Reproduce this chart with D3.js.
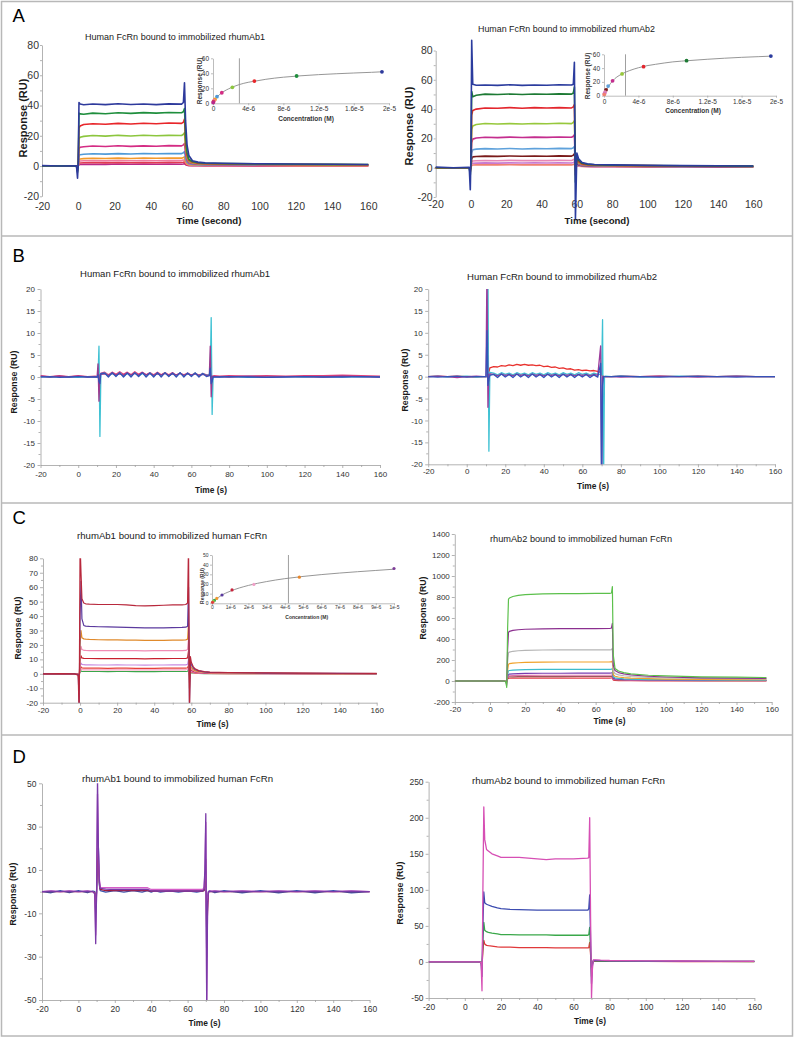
<!DOCTYPE html>
<html><head><meta charset="utf-8">
<script src="https://cdn.jsdelivr.net/npm/d3@7"></script>
<style>
body{margin:0;background:#fff}
svg{display:block}
text{font-family:"Liberation Sans",Arial,Helvetica,sans-serif}
</style>
</head><body>
<svg id="c" width="794" height="1038"></svg>
<script>
// ================= DATA =================
// ---- Panel A (time in s, response in RU) ----
const aTimes = [-20,-10,-1,-0.4,0,0.4,1,3,8,15,22,29,36,43,50,57,58,58.6,59.2,60,61,63,66,70,80,100,120,140,160];
const aLeftSeries = [
 [0,0,0,-0.4,0.1,0.9,1,1.1,1.2,1.1,1.3,1.2,1.3,1.2,1.3,1.2,1.4,1.6,0.9,0.5,0.3,0.2,0.2,0.2,0.2,0.1,0.1,0.1,0.1],
 [0,0,0,-0.5,0.1,1.8,2,2.2,2.3,2.1,2.3,2.2,2.3,2.2,2.4,2.3,2.5,2.8,1.5,0.8,0.5,0.4,0.4,0.3,0.3,0.3,0.2,0.2,0.2],
 [0,0,0,-0.6,0.2,3,3.3,3.5,3.6,3.4,3.7,3.5,3.6,3.5,3.7,3.6,3.9,4.2,2.3,1.2,0.8,0.6,0.5,0.5,0.4,0.4,0.3,0.3,0.3],
 [0,0,0,-0.8,0.2,4.3,4.7,4.9,5.1,5,5.2,5,5.3,5.1,5.3,5.2,5.6,6,3.2,1.6,1,0.8,0.7,0.6,0.5,0.5,0.4,0.4,0.4],
 [0,0,0,-1,0.3,7,7.5,7.8,8.1,7.9,8.2,8,8.3,8.1,8.3,8.2,8.8,9.5,5,2.5,1.5,1.1,0.9,0.8,0.7,0.6,0.6,0.5,0.5],
 [0,0,0,-1.5,0.5,11.5,12.4,12.8,13.2,12.9,13.4,13,13.3,13.1,13.5,13.3,14,15,8,3.8,2.2,1.5,1.2,1,0.9,0.8,0.7,0.7,0.6],
 [0,0,0,-2,0.5,18,19,19.6,20.2,19.8,20.3,19.9,20.4,20,20.3,20.2,21,22,12,5.5,3,2,1.6,1.4,1.2,1,0.9,0.8,0.8],
 [0,0,0,-3,1,25,26.5,27.5,28,27.6,28.2,27.8,28.3,28,28.4,28.2,29,31,16,7,3.8,2.5,1.9,1.6,1.4,1.2,1.1,1,0.9],
 [0,0.1,0,-4,1,35,34.5,34.2,35,34.6,35.2,34.8,35.3,35,35.4,35.2,36,38,20,9,4.5,3,2.2,1.8,1.6,1.4,1.2,1.1,1],
 [0.3,0,0.2,-8,2,42,41,40.5,41,40.6,41.2,40.7,41,40.6,41.1,40.9,42,55,30,14,7,3.5,2.6,2.1,1.8,1.5,1.3,1.2,1]
];
const aRightSeries = [
 [0,0,0,-0.4,0.1,1.5,1.8,1.9,2,1.9,2,1.9,2,1.9,2,1.9,2.2,2.5,1.2,1.3,1,0.8,0.6,0.5,0.5,0.4,0.4,0.4,0.4],
 [0,0,0,-0.5,0.1,2.6,3,3.1,3.3,3.1,3.3,3.2,3.3,3.2,3.3,3.2,3.6,4,1.8,1.8,1.3,1,0.8,0.7,0.7,0.6,0.5,0.5,0.5],
 [0,0,0,-0.6,0.2,4,4.6,4.7,4.9,4.7,5,4.8,4.9,4.8,5,4.9,5.4,6,2.5,2.4,1.6,1.2,1,0.9,0.8,0.7,0.7,0.6,0.6],
 [0,0,0,-0.8,0.3,6,7.4,7.6,7.9,7.7,8,7.8,8,7.8,8.1,7.9,8.6,9.5,3,3,1.9,1.4,1.2,1.1,1,0.9,0.8,0.7,0.7],
 [0,0,0,-1,0.5,10,12.3,12.7,13,12.8,13.1,12.8,13,12.9,13.2,13,13.6,14.5,2,3.5,2.2,1.6,1.4,1.2,1.1,1,0.9,0.8,0.8],
 [0,0,0,-1.5,0.5,17,19.5,20.3,20.8,20.5,20.9,20.6,20.9,20.7,21,20.8,21.5,22.5,0,4,2.6,1.9,1.6,1.4,1.2,1.1,1,0.9,0.8],
 [0,0,0,-2,1,26,28.5,29.5,30.2,29.8,30.1,29.8,30.2,30,30.3,30.1,31,32,-2,5,3.2,2.2,1.8,1.6,1.4,1.2,1.1,1,0.9],
 [0,0,0,-3,1,36,39,40,40.8,40.6,41,40.6,41,40.7,41,40.8,41.5,43,-5,6,4,2.5,2,1.8,1.6,1.4,1.2,1.1,1],
 [0,0,0,-5,3,52,48.5,49.5,50.2,50,50.3,50,50.3,50.1,50.4,50.2,51,55,-10,8,5,3,2.3,2,1.7,1.5,1.3,1.2,1.1],
 [0.5,0,0.3,-15,10,87,57,56.3,56.5,56.2,56.6,56.2,56.5,56.3,56.6,56.4,57,72,-35,10,6,3.5,2.6,2.2,1.9,1.6,1.4,1.3,1.2]
];
// Panel A insets (steady-state: concentration M vs response RU)
const aLeftFitConc = [0,2e-7,5e-7,1e-6,2e-6,3e-6,4e-6,5e-6,6e-6,8e-6,1e-5,1.2e-5,1.4e-5,1.6e-5,1.8e-5,1.92e-5];
const aLeftFitResp = [0,4.5,9,14,20.5,25,28,30,32,34.8,36.7,38.2,39.4,40.4,41.3,42];
const aLeftPtConc = [1.92e-5,9.5e-6,4.7e-6,2.2e-6,1.0e-6,4.5e-7,2.2e-7,1.1e-7,5e-8,2.5e-8];
const aLeftPtResp = [42,36.4,29.7,21.3,14.1,8.8,5.2,3.5,2.2,1.1];
const aLeftKd = 3.0e-6;
const aRightFitConc = [0,2e-7,5e-7,1e-6,2e-6,3e-6,4e-6,5e-6,6e-6,8e-6,1e-5,1.2e-5,1.4e-5,1.6e-5,1.8e-5,1.94e-5];
const aRightFitResp = [0,6.5,13,21.5,31,36.5,40.5,43.5,45.5,49,51,52.8,54.3,55.6,56.6,57.3];
const aRightPtConc = [1.94e-5,9.6e-6,4.6e-6,2.1e-6,1.0e-6,4.8e-7,2.4e-7,1.2e-7,6e-8,3e-8];
const aRightPtResp = [57.5,50.7,42,31.5,21.5,14,8.5,5,3.2,1.9];
const aRightKd = 2.5e-6;
const aInsetXTicks = [0,4e-6,8e-6,1.2e-5,1.6e-5,2e-5];
const aInsetXLabels = ["0","4e-6","8e-6","1.2e-5","1.6e-5","2e-5"];
const aInsetYTicks = [0,20,40,60];

// ---- Panel B ----
const bTimes = [-20,-15,-10,-5,0,5,9,10,10.5,11,11.5,12,14,16,18,20,22,24,26,28,30,32,34,36,38,40,42,44,46,48,50,52,54,56,58,60,62,64,66,68,69.5,70,70.5,71,71.5,72,75,80,90,100,110,120,130,140,150,160];
const bLeftSeries = [
 [0.3,0.1,0.3,0.1,0.3,0.1,0.2,0.1,0.2,0, 0.3,0.8, 1.1,0.5,1.1,0.6,1.2,0.6,1.1,0.5,1.2,0.6,1.1,0.5,1.0,0.5,1.1,0.5,1.0,0.5,1.0,0.4,0.9,0.5,0.9,0.4,0.9,0.4,0.8,0.5, 0.5,0.5,0.3,0.2,0.2,0.3, 0.2,0.3,0.2,0.3,0.2,0.3,0.3,0.4,0.3,0.2],
 [0.1,-0.1,0.1,0,-0.1,0.1,0,0,0, 7,-13.5,0.6, 0.9,0.2,0.8,0.3,0.9,0.2,0.8,0.3,0.9,0.2,0.8,0.3,0.9,0.2,0.8,0.3,0.9,0.2,0.8,0.3,0.9,0.2,0.8,0.3,0.9,0.2,0.8,0.4, 0.5,0.5,13.5,-8.5,0,0.1, 0,0.1,-0.1,0,0.1,0,0.1,0,0.1,0],
 [0.2,0,0.2,0,0.2,0,0.1,0, 3,-5.5,0.5,0.6, 0.7,0.4,0.8,0.5,0.7,0.4,0.9,0.5,0.8,0.4,1.0,0.5,0.8,0.4,0.7,0.5,0.8,0.4,0.7,0.5,0.8,0.4,0.7,0.5,0.7,0.4,0.6,0.4, 0.3,7,-4.5,0.2,0,0.1, 0.1,0,0.2,0,0.1,0.1,0,0.2,0.1,0],
 [0,0.1,-0.1,0,0.1,0,0,0,0.5,-1, -1.5,0.8, 0.9,0,1,0.1,1,0,0.9,0,1,0.1,1,0,0.9,0,1,0,1,0.1,0.9,0,1,0,0.9,0.1,0.9,0,0.8,0.1, 0.3,2,-1.5,-1,0,0, 0,0.1,0,-0.1,0,0.1,0,0,0.1,0]
];
const bRightSeries = [
 [0,0.1,0,0.1,0,-0.1,0,0,0,0.5, 1,2, 2.3,2.2,2.5,2.4,2.7,2.5,2.8,2.6,2.8,2.6,2.7,2.5,2.6,2.3,2.4,2.1,2.2,1.9,2.0,1.7,1.8,1.5,1.6,1.4,1.5,1.3,1.4,1.2, 1.0,0.5,0.2,0.1,0,0, 0,0.1,0,0.1,0,0.1,0,0.1,0,0],
 [0,0.1,-0.1,0,0.1,-0.1,0,0,0, 25,-17,1, 0.8,0.4,0.9,0.5,0.8,0.4,0.9,0.5,0.8,0.4,0.9,0.5,0.8,0.4,0.9,0.5,0.8,0.4,0.9,0.5,0.8,0.4,0.9,0.5,0.8,0.4,0.8,0.5, 0.5,0.5,13,-25,0,0.1, 0,0.1,-0.1,0,0.1,0,0,0.1,0,0],
 [0,0.1,0,-0.2,0,0.1,0,0, 25,-7,0.5,0.6, 0.5,0.2,0.6,0.3,0.5,0.2,0.6,0.3,0.5,0.2,0.6,0.3,0.5,0.2,0.5,0.3,0.5,0.2,0.5,0.3,0.5,0.2,0.5,0.3,0.5,0.2,0.5,0.3, 7,-25,0,0,0,0, 0,-0.1,0,0.1,0,-0.1,0,0.1,0,0],
 [0,-0.1,0,0.1,-0.1,0,0,0, 10.5,-2,-0.5,0.3, 0.5,-0.2,0.6,-0.1,0.5,-0.2,0.6,-0.1,0.5,-0.2,0.6,-0.1,0.5,-0.2,0.6,-0.1,0.5,-0.2,0.6,-0.1,0.5,-0.2,0.5,-0.1,0.5,-0.2,0.4,-0.1, 3,-25,-2,0,0,0, 0,0.1,0,-0.1,0,0.1,0,-0.1,0,0]
];

// ---- Panel C ----
const cLeftTimes = [-20,-10,-3,-1,-0.5,0,0.5,1,2,3,5,10,15,20,25,30,35,40,45,50,55,57,58,58.5,59,59.5,60,61,62,64,67,70,80,100,120,140,160];
const cLeftSeries = [
 [0,0,0,0,-0.3,1.2,2,1.7,1.6,1.6,1.6,1.6,1.5,1.6,1.6,1.5,1.5,1.5,1.6,1.6,1.6,1.6,1.8,2.5,-0.3,0.9,0.7,0.5,0.4,0.3,0.2,0.1,0.1,0.1,0.1,0,0],
 [0,0,0,0,-0.5,2,3.4,2.9,2.8,2.8,2.8,2.8,2.7,2.8,2.8,2.7,2.7,2.7,2.8,2.8,2.8,2.8,3,4.5,-0.5,1.4,1,0.7,0.5,0.4,0.3,0.2,0.2,0.1,0.1,0.1,0.1],
 [0,0,0,0,-1,3,4.8,4.1,4,3.9,3.9,3.9,3.8,3.9,3.9,3.8,3.8,3.8,3.9,3.9,3.9,3.9,4.2,6,-1,1.8,1.3,1,0.7,0.5,0.4,0.3,0.2,0.2,0.1,0.1,0.1],
 [0,0,0,-0.1,-2,5,7.5,6.5,6.3,6.2,6.2,6.1,6.1,6.2,6.1,6.1,6,6.1,6.1,6.2,6.2,6.2,6.6,10,-2,2.5,1.8,1.3,1,0.7,0.5,0.4,0.3,0.2,0.2,0.1,0.1],
 [0,0,0,-0.2,-4,9,12.5,11,10.7,10.6,10.6,10.5,10.5,10.6,10.5,10.5,10.4,10.5,10.5,10.6,10.6,10.6,11,16,-4,3.5,2.6,1.8,1.3,0.9,0.7,0.5,0.4,0.3,0.2,0.2,0.1],
 [0,0,0,-0.3,-6,14,19,16.8,16.3,16.2,16.1,16,16,16.1,16,16,15.9,16,16,16.1,16.1,16.2,16.8,24,-6,4.5,3.3,2.3,1.7,1.2,0.9,0.7,0.5,0.3,0.3,0.2,0.2],
 [0,0,0,-0.4,-10,20,30,25,24.2,24,23.8,23.6,23.5,23.5,23.4,23.3,23.2,23.2,23.2,23.3,23.4,23.5,24,35,-10,6,4.5,3,2.2,1.5,1.1,0.8,0.6,0.4,0.3,0.2,0.2],
 [0,0,0,-0.5,-20,40,64,38,33.5,33,32.8,32.6,32.5,32.4,32.2,32,31.8,31.8,31.8,32,32.1,32.3,33,60,-20,9,6.5,4.2,3,2,1.4,1,0.8,0.5,0.4,0.3,0.2],
 [0,0.2,0,-1,-30,90,70,52,49,48.5,48.3,48,48,48,47.8,47.2,47,47.2,47.5,47.8,47.8,48,49,90,-30,12,8,5,3.5,2.2,1.6,1.2,0.9,0.6,0.5,0.4,0.3]
];
const cLeftFitConc = [0,2.5e-7,5e-7,1e-6,2e-6,3e-6,4e-6,5e-6,6e-6,7e-6,8e-6,9e-6,1e-5];
const cLeftFitResp = [0,4.5,8,12.5,18.5,22.5,25.5,27.8,29.7,31.3,32.7,34,35.3];
const cLeftPtConc = [1e-5,4.8e-6,2.3e-6,1.1e-6,5.5e-7,2.6e-7,1.3e-7,6.5e-8,3e-8];
const cLeftPtResp = [36,27,19.5,13.8,8.6,5,3,2,1];
const cLeftKd = 4.2e-6;
const cInsetXTicks = [0,1e-6,2e-6,3e-6,4e-6,5e-6,6e-6,7e-6,8e-6,9e-6,1e-5];
const cInsetXLabels = ["0","1e-6","2e-6","3e-6","4e-6","5e-6","6e-6","7e-6","8e-6","9e-6","1e-5"];
const cInsetYTicks = [0,10,20,30,40,50];

const cRightTimes = [-20,0,8,9,9.5,10,10.5,11,13,16,20,30,40,50,60,68,69,69.5,70,71,73,76,80,90,100,120,140,157];
const cRightSeries = [
 [0,0,0,-1,-4,18,25,26,27,27,28,28,28,28,28,28,29,31,8,5,4,3,3,2,2,2,2,2],
 [0,0,0,-1,-5,25,38,39,40,41,42,42,42,43,43,43,44,47,15,12,10,8,7,6,5,4,4,4],
 [0,0,0,-1,-6,30,48,50,52,53,54,55,55,55,55,55,56,60,20,15,12,10,9,7,6,5,5,4],
 [0,0,0,-1,-8,40,62,65,68,70,72,74,74,75,75,75,76,80,25,20,17,14,12,10,8,7,6,6],
 [0,0,0,-2,-10,60,98,100,104,106,108,110,110,111,111,111,112,118,40,30,25,21,18,14,12,10,9,8],
 [0,0,0,-2,-15,100,160,165,170,174,177,180,181,181,181,182,183,190,60,45,38,32,28,22,18,15,13,12],
 [0,0,0,-3,-25,180,270,275,283,288,292,295,296,296,296,297,298,310,100,70,58,50,43,35,30,25,22,20],
 [0,0,0,-5,-40,300,465,472,482,488,493,497,498,498,499,500,505,550,150,100,80,68,58,45,38,30,27,25],
 [0,0,0,-10,-60,500,780,790,805,815,822,830,832,833,834,835,838,900,250,120,95,80,68,55,48,40,36,33]
];

// ---- Panel D ----
const dLeftTimes = [-20,-15,-10,-5,0,5,8,9,9.5,10,10.5,11,11.5,12,15,20,25,30,35,38,40,42,45,50,55,60,65,68,69,69.5,70,70.5,71,71.5,72,75,80,90,100,110,120,130,140,150,160];
const dLeftSeries = [
 [0,-0.5,0.5,-0.5,0.5, -0.5,0.3,0,-5,0, 10,20,3,0.5,-0.2, 0.5,-0.2,0.5,-0.2,0.5, -0.2,0.5,-0.2,0.4,-0.2, 0.4,-0.2,0.3,0.5,3, 10,-30,-2,0,0.5, -0.5,0.5,-0.5,0.5,-0.5, 0.5,-0.5,0.5,-0.5,0],
 [0,0,0,0,0, 0,0,-0.5,-10,0, 20,13,4,1,0.5, 0.5,0.5,0.5,0.5,0.5, 0.3,0.3,0.3,0.3,0.3, 0.3,0.3,0.3,0.5,3, 15,-20,-8,0,0, 0,0,0,0,0, 0,0,0,0,0],
 [0,0.3,0,0.3,0, 0.3,0,-1,-20,0, 45,18,6,2,1.8, 1.8,1.8,1.8,1.8,1.8, 1,1,1,1,1, 1,1,1,1.5,8, 32,-50,-3,0,0.2, 0.3,0,0.3,0,0.3, 0,0.3,0,0.3,0],
 [0,0.2,0,0.2,0, 0.2,0,-1,-24,0, 52,20,5,1.5,1.2, 1,1,1,1,1, 0.4,0.3,0.3,0.3,0.3, 0.3,0.3,0.3,1,10, 36,-55,-5,0,0, 0.2,0,0.2,0,0.2, 0,0.2,0,0.2,0]
];
const dRightTimes = [-20,0,8,9,9.5,10,10.5,11,12,13,15,18,20,25,30,40,45,50,60,68,68.5,69,69.5,70,70.5,71,72,75,80,100,120,140,160];
const dRightSeries = [
 [0,0,0,-0.5,-5,15,30,25,23,22.5,22,21,20.5,20.5,20,20,20,19.5,19.5,19.5,20,27,10,-10,-2,1,1,0.9,0.8,0.7,0.6,0.5,0.5],
 [0,0,0,-0.5,-10,30,55,44,42,41,40,39,38,38,37.5,37.5,37.5,37,37,37,38,48,15,-20,-3,1.5,1.5,1.3,1.1,0.9,0.8,0.7,0.6],
 [0,0,0,-1,-20,50,97,82,80,79,77,75,74,73,72.5,72,72,72,72,72,74,93,30,-30,-5,2,2,1.8,1.5,1.2,1,0.9,0.8],
 [0,0,0,-1,-40,100,215,170,156,154,150,147,145,145,145,143,142,143,143,144,145,200,60,-50,-10,3,3,2.5,2,1.6,1.3,1.1,1]
];
const timeTicks = [-20,0,20,40,60,80,100,120,140,160];

// ================= STYLES =================
const aLeftColors = ["#b8288a","#e03c50","#f07aa0","#f39a2b","#4f9ad8","#d42c84","#8cc63e","#e8262a","#1f8e3d","#2e3a9c"];
const aRightColors = ["#f08070","#c87ad0","#e887b5","#7a1a1a","#5ea1db","#c42d8e","#97c83c","#e3262d","#1d7a34","#2b3c9e"];
const aLeftPtColors = ["#2e3a9c","#1f8e3d","#e8262a","#8cc63e","#d42c84","#4f9ad8","#f39a2b","#f07aa0","#e03c50","#b8288a"];
const aRightPtColors = ["#2b3c9e","#1d7a34","#e3262d","#97c83c","#c42d8e","#5ea1db","#7a1a1a","#e887b5","#c87ad0","#f08070"];
const bLeftColors = ["#e0407a","#3ec1d3","#9b3a8e","#3652b8"];
const bRightColors = ["#e8322e","#3ec1d3","#9b3a9b","#3652b8"];
const cLeftColors = ["#3aa64a","#f5a0c0","#e8403a","#c78ae0","#c8202f","#f08cb4","#e08a2c","#5b3a9e","#b8283c"];
const cLeftPtColors = ["#7d3c98","#e8862a","#f0a0c8","#c8243c","#5a3a9e","#f09a30","#3aa64a","#8cc84a","#e04040"];
const cRightColors = ["#e63a48","#9a5a5a","#e070a8","#7a3cb0","#3cbccc","#f0a22a","#b5b5b5","#8b2f8f","#5cc04c"];
const dLeftColors = ["#3a56b0","#a01c3c","#d55ec8","#7a3aa8"];
const dRightColors = ["#e0383a","#3aa84a","#3b4bb0","#d64fb4"];

const FONT = '"Liberation Sans", Arial, Helvetica, sans-serif';
const svg = d3.select("#c");
const AX = "#a0a0a0";

function txt(g, s, x, y, size, o = {}) {
  const t = g.append("text").attr("x", x).attr("y", y).attr("font-size", size)
    .attr("fill", o.fill || "#1a1a1a").attr("text-anchor", o.anchor || "middle")
    .attr("font-weight", o.bold ? "bold" : "normal").attr("font-family", FONT).text(s);
  if (o.rotate) t.attr("transform", `rotate(-90,${x},${y})`).attr("dominant-baseline", "central");
  if (o.len) t.attr("textLength", o.len).attr("lengthAdjust", "spacingAndGlyphs");
  return t;
}

let clipN = 0;
function drawPanel(p) {
  const g = svg.append("g");
  const x = d3.scaleLinear().domain(p.xDomain).range(p.xRange);
  const y = d3.scaleLinear().domain(p.yDomain).range(p.yRange);

  const ya = g.append("g").attr("transform", `translate(${p.xRange[0]},0)`)
    .call(d3.axisLeft(y).tickValues(p.yTicks).tickSize(p.tickLen).tickSizeOuter(0).tickPadding(p.yPad).tickFormat(d => String(d)));
  if (p.yMinor) g.append("g").attr("transform", `translate(${p.xRange[0]},0)`)
    .call(d3.axisLeft(y).tickValues(p.yMinor).tickSize(2).tickFormat("")).select(".domain").remove();
  const xa = g.append("g").attr("transform", `translate(0,${p.yRange[0]})`)
    .call(d3.axisBottom(x).tickValues(timeTicks).tickSize(p.xLine ? p.tickLen : 0).tickSizeOuter(0).tickPadding(p.xPad).tickFormat(d => String(d)));
  if (!p.xLine) xa.select(".domain").remove();
  else g.append("g").attr("transform", `translate(0,${p.yRange[0]})`)
    .call(d3.axisBottom(x).tickValues(d3.range(-10, 160, 20)).tickSize(2).tickFormat("")).select(".domain").remove();
  [ya, xa].forEach(a => a.attr("font-family", FONT).attr("font-size", p.tickFont));
  g.selectAll(".domain, .tick line").attr("stroke", AX).attr("stroke-width", 0.8);
  g.selectAll(".tick text").attr("fill", "#333");

  const lg = g.append("g");
  if (p.clip) {
    const id = "clip" + (clipN++);
    svg.append("clipPath").attr("id", id).append("rect")
      .attr("x", p.xRange[0]).attr("y", p.yRange[1]).attr("width", p.xRange[1] - p.xRange[0] + 2).attr("height", p.yRange[0] - p.yRange[1]);
    lg.attr("clip-path", `url(#${id})`);
  }
  const line = d3.line().x(d => x(d[0])).y(d => y(d[1]));
  p.series.forEach((vals, i) => {
    lg.append("path").datum(p.times.map((t, j) => [t, vals[j]]))
      .attr("fill", "none").attr("stroke", p.colors[i]).attr("stroke-width", p.lineW)
      .attr("stroke-linejoin", "round").attr("d", line);
  });

  txt(g, p.title, p.titlePos[0], p.titlePos[1], p.titleFont, { len: p.titleLen });
  txt(g, "Response (RU)", p.yLabPos[0], p.yLabPos[1], p.labFont, { bold: true, rotate: true });
  txt(g, p.xLab, p.xLabPos[0], p.xLabPos[1], p.xLabFont, { bold: true });
}

function drawInset(q) {
  const g = svg.append("g");
  const x = d3.scaleLinear().domain(q.xDomain).range(q.xRange);
  const y = d3.scaleLinear().domain(q.yDomain).range(q.yRange);
  const ya = g.append("g").attr("transform", `translate(${q.xRange[0]},0)`)
    .call(d3.axisLeft(y).tickValues(q.yTicks).tickSize(2).tickSizeOuter(0).tickPadding(q.yPad).tickFormat(d => String(d)));
  const xa = g.append("g").attr("transform", `translate(0,${q.yRange[0]})`)
    .call(d3.axisBottom(x).tickValues(q.xTicks).tickSize(2).tickSizeOuter(0).tickPadding(q.xPad).tickFormat((d, i) => q.xLabels[i]));
  [ya, xa].forEach(a => a.attr("font-family", FONT).attr("font-size", q.font));
  g.selectAll(".domain, .tick line").attr("stroke", AX).attr("stroke-width", 0.7);
  g.selectAll(".tick text").attr("fill", "#333");
  g.append("line").attr("x1", x(q.kd)).attr("x2", x(q.kd)).attr("y1", q.yRange[1]).attr("y2", q.yRange[0])
    .attr("stroke", "#888").attr("stroke-width", 0.8);
  const line = d3.line().x(d => x(d[0])).y(d => y(d[1])).curve(d3.curveMonotoneX);
  g.append("path").datum(q.fitC.map((c, i) => [c, q.fitR[i]])).attr("fill", "none")
    .attr("stroke", "#8a8a8a").attr("stroke-width", 0.9).attr("d", line);
  q.ptC.forEach((c, i) => {
    g.append("circle").attr("cx", x(c)).attr("cy", y(q.ptR[i])).attr("r", q.r).attr("fill", q.ptColors[i]);
  });
  txt(g, "Concentration (M)", q.xLabPos[0], q.xLabPos[1], q.labFont, { bold: true, fill: "#333" });
  txt(g, "Response (RU)", q.yLabPos[0], q.yLabPos[1], q.labFont, { bold: true, rotate: true, fill: "#333" });
}

// ================= FRAME =================
svg.append("rect").attr("x", 1.5).attr("y", 1.5).attr("width", 791).attr("height", 1034.5)
  .attr("fill", "none").attr("stroke", "#b8b8b8").attr("stroke-width", 1.5);
[236, 503, 735].forEach(yy => svg.append("line").attr("x1", 1.5).attr("x2", 792.5).attr("y1", yy).attr("y2", yy)
  .attr("stroke", "#b8b8b8").attr("stroke-width", 1.5));
[["A", 21.7], ["B", 261.7], ["C", 523.5], ["D", 762.5]].forEach(([s, yy]) =>
  txt(svg, s, 12.5, yy, 18.5, { anchor: "start", fill: "#000" }));

// ================= PANELS =================
const common = { xDomain: [-20, 160] };
drawPanel({ ...common, xRange: [42, 368.3], yDomain: [-20, 80], yRange: [196.3, 45],
  yTicks: d3.range(-20, 81, 20), yMinor: d3.range(-10, 80, 20), tickLen: 2, yPad: 1, xPad: 6.5, xLine: false,
  tickFont: 10.5, lineW: 1.6, clip: false, times: aTimes, series: aLeftSeries, colors: aLeftColors,
  title: "Human FcRn bound to immobilized rhumAb1", titlePos: [175, 40], titleFont: 9, titleLen: 180,
  yLabPos: [23, 118], labFont: 11, xLab: "Time (second)", xLabPos: [209, 223.5], xLabFont: 9.6 });
drawPanel({ ...common, xRange: [435.7, 753.3], yDomain: [-20, 80], yRange: [197, 50.5],
  yTicks: d3.range(-20, 81, 20), yMinor: d3.range(-10, 80, 20), tickLen: 2, yPad: 1, xPad: 4, xLine: false,
  tickFont: 10.5, lineW: 1.6, clip: false, times: aTimes, series: aRightSeries, colors: aRightColors,
  title: "Human FcRn bound to immobilized rhumAb2", titlePos: [566.5, 31.5], titleFont: 9, titleLen: 177,
  yLabPos: [409, 126], labFont: 11, xLab: "Time (second)", xLabPos: [597, 223.5], xLabFont: 9.6 });

drawInset({ xDomain: [0, 2e-5], xRange: [213, 389], yDomain: [0, 60], yRange: [103.3, 58.3],
  yTicks: aInsetYTicks, xTicks: aInsetXTicks, xLabels: aInsetXLabels, yPad: 2, xPad: 1, font: 6.5,
  kd: aLeftKd, fitC: aLeftFitConc, fitR: aLeftFitResp, ptC: aLeftPtConc, ptR: aLeftPtResp, ptColors: aLeftPtColors, r: 1.9,
  xLabPos: [306, 120.5], yLabPos: [199, 81], labFont: 6.5 });
drawInset({ xDomain: [0, 2e-5], xRange: [604, 776], yDomain: [0, 60], yRange: [95.7, 54.3],
  yTicks: aInsetYTicks, xTicks: aInsetXTicks, xLabels: aInsetXLabels, yPad: 2, xPad: 1.5, font: 6.5,
  kd: aRightKd, fitC: aRightFitConc, fitR: aRightFitResp, ptC: aRightPtConc, ptR: aRightPtResp, ptColors: aRightPtColors, r: 1.9,
  xLabPos: [693, 113], yLabPos: [587, 76], labFont: 6.5 });

drawPanel({ ...common, xRange: [40.5, 380], yDomain: [-20, 20], yRange: [465, 289],
  yTicks: d3.range(-20, 21, 5), yMinor: d3.range(-17.5, 20, 5), tickLen: 3, yPad: 2.5, xPad: 3, xLine: true,
  tickFont: 8, lineW: 1.3, clip: true, times: bTimes, series: bLeftSeries, colors: bLeftColors,
  title: "Human FcRn bound to immobilized rhumAb1", titlePos: [175, 276.5], titleFont: 9.5, titleLen: 190,
  yLabPos: [14, 382], labFont: 8.8, xLab: "Time (s)", xLabPos: [211, 493], xLabFont: 8.4 });
drawPanel({ ...common, xRange: [428.2, 775], yDomain: [-20, 20], yRange: [464.3, 289],
  yTicks: d3.range(-20, 21, 5), yMinor: d3.range(-17.5, 20, 5), tickLen: 3, yPad: 2.5, xPad: 1, xLine: true,
  tickFont: 8, lineW: 1.3, clip: true, times: bTimes, series: bRightSeries, colors: bRightColors,
  title: "Human FcRn bound to immobilized rhumAb2", titlePos: [562, 280], titleFont: 9.5, titleLen: 190,
  yLabPos: [405, 380], labFont: 8.8, xLab: "Time (s)", xLabPos: [593, 488.5], xLabFont: 8.4 });

drawPanel({ ...common, xRange: [43, 376.7], yDomain: [-20, 80], yRange: [702.7, 558.3],
  yTicks: d3.range(-20, 81, 10), yMinor: d3.range(-15, 80, 10), tickLen: 3, yPad: 2, xPad: 2, xLine: true,
  tickFont: 8, lineW: 1.2, clip: true, times: cLeftTimes, series: cLeftSeries, colors: cLeftColors,
  title: "rhumAb1 bound to immobilized human FcRn", titlePos: [172, 538.5], titleFont: 9.5, titleLen: 190,
  yLabPos: [18, 628], labFont: 8.8, xLab: "Time (s)", xLabPos: [212.5, 726.5], xLabFont: 8.4 });
drawInset({ xDomain: [0, 1e-5], xRange: [212, 394], yDomain: [0, 50], yRange: [603.3, 555],
  yTicks: cInsetYTicks, xTicks: cInsetXTicks, xLabels: cInsetXLabels, yPad: 1.5, xPad: 0.5, font: 5,
  kd: cLeftKd, fitC: cLeftFitConc, fitR: cLeftFitResp, ptC: cLeftPtConc, ptR: cLeftPtResp, ptColors: cLeftPtColors, r: 1.6,
  xLabPos: [306.7, 618.5], yLabPos: [201.5, 586], labFont: 5 });
drawPanel({ ...common, xRange: [454.8, 771.7], yDomain: [-200, 1400], yRange: [702, 534],
  yTicks: d3.range(-200, 1401, 200), yMinor: d3.range(-100, 1400, 200), tickLen: 3, yPad: 2, xPad: 1.5, xLine: true,
  tickFont: 8, lineW: 1.2, clip: true, times: cRightTimes, series: cRightSeries, colors: cRightColors,
  title: "rhumAb2 bound to immobilized human FcRn", titlePos: [581, 541.5], titleFont: 9.5, titleLen: 182,
  yLabPos: [423, 608], labFont: 8.8, xLab: "Time (s)", xLabPos: [609.5, 724], xLabFont: 8.4 });

drawPanel({ ...common, xRange: [42, 369.6], yDomain: [-50, 50], yRange: [1000, 783.3],
  yTicks: [-50, -30, -10, 10, 30, 50], yMinor: [-40, -20, 0, 20, 40], tickLen: 3, yPad: 2.5, xPad: 3, xLine: true,
  tickFont: 8.5, lineW: 1.3, clip: true, times: dLeftTimes, series: dLeftSeries, colors: dLeftColors,
  title: "rhumAb1 bound to immobilized human FcRn", titlePos: [177.5, 781.5], titleFont: 9.5, titleLen: 191,
  yLabPos: [13, 894], labFont: 8.8, xLab: "Time (s)", xLabPos: [204.5, 1025.5], xLabFont: 8.4 });
drawPanel({ ...common, xRange: [428.6, 754.4], yDomain: [-50, 250], yRange: [998, 781.7],
  yTicks: d3.range(-50, 251, 50), yMinor: d3.range(-25, 250, 50), tickLen: 3, yPad: 2, xPad: 3, xLine: true,
  tickFont: 8.5, lineW: 1.3, clip: true, times: dRightTimes, series: dRightSeries, colors: dRightColors,
  title: "rhumAb2 bound to immobilized human FcRn", titlePos: [568.5, 784], titleFont: 9.5, titleLen: 193,
  yLabPos: [400, 893], labFont: 8.8, xLab: "Time (s)", xLabPos: [590, 1024], xLabFont: 8.4 });
</script>
</body></html>
